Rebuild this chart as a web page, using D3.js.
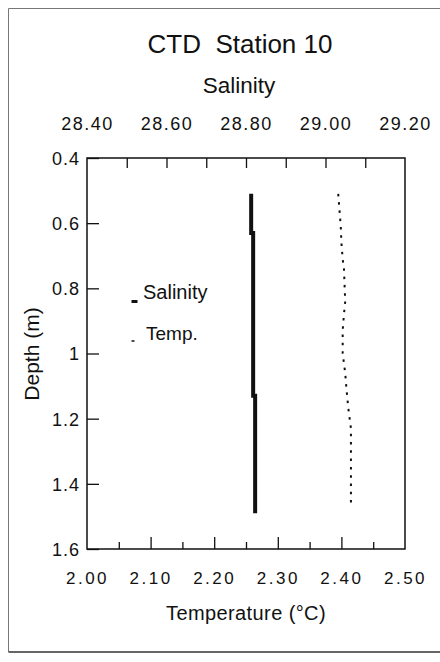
<!DOCTYPE html>
<html>
<head>
<meta charset="utf-8">
<script src="https://cdn.jsdelivr.net/npm/d3@7"></script>
<style>
  body { margin: 0; background: #fff; }
  svg { display: block; font-family: "Liberation Sans", Arial, sans-serif; }
  text { fill: #111; }
</style>
</head>
<body>
<div class="chart"></div>
<script>
// --- data ---
const depthTicks = [0.4, 0.6, 0.8, 1, 1.2, 1.4, 1.6];
const salLabelTicks = [28.4, 28.6, 28.8, 29.0, 29.2];
const salInnerTicks = [28.5, 28.6, 28.7, 28.8, 28.9, 29.0, 29.1];
const tempLabelTicks = [2.0, 2.1, 2.2, 2.3, 2.4, 2.5];
const tempMajorTicks = [2.1, 2.2, 2.3, 2.4];
const tempMinorTicks = [2.05, 2.15, 2.25, 2.35, 2.45];

// salinity profile (thick line)
const salDepth = [0.51, 0.63, 0.63, 1.13, 1.13, 1.49];
const salValue = [28.813, 28.813, 28.818, 28.818, 28.823, 28.823];

// temperature profile (dotted line)
const tempDepth = [0.51, 0.56, 0.61, 0.66, 0.71, 0.74, 0.84, 0.88, 0.93, 1.00, 1.06, 1.11, 1.17, 1.23, 1.47];
const tempValue = [2.395, 2.397, 2.399, 2.400, 2.402, 2.404, 2.406, 2.404, 2.402, 2.402, 2.406, 2.408, 2.411, 2.415, 2.415];

const W = 440, H = 662;
const plot = { left: 87, right: 405, top: 158, bottom: 549 };

const svg = d3.select(".chart").append("svg")
    .attr("width", W)
    .attr("height", H);

// --- scales ---
const y = d3.scaleLinear().domain([0.4, 1.6]).range([plot.top, plot.bottom]);
const xSal = d3.scaleLinear().domain([28.4, 29.2]).range([plot.left, plot.right]);
const xTemp = d3.scaleLinear().domain([2.0, 2.5]).range([plot.left, plot.right]);

// --- outer frame of the page ---
svg.append("line").attr("x1", 8.5).attr("y1", 8.5).attr("x2", W).attr("y2", 8.5)
    .attr("stroke", "#777").attr("stroke-width", 1);
svg.append("line").attr("x1", 8.5).attr("y1", 8.5).attr("x2", 8.5).attr("y2", 652)
    .attr("stroke", "#777").attr("stroke-width", 1);
svg.append("line").attr("x1", 8.5).attr("y1", 652).attr("x2", W).attr("y2", 652)
    .attr("stroke", "#333").attr("stroke-width", 1.5);

// --- titles ---
svg.append("text")
    .attr("x", 240).attr("y", 53)
    .attr("text-anchor", "middle")
    .style("white-space", "pre")
    .style("font-size", "26px")
    .text("CTD  Station 10");

svg.append("text")
    .attr("x", 239).attr("y", 93)
    .attr("text-anchor", "middle")
    .style("font-size", "22.5px")
    .text("Salinity");

svg.append("text")
    .attr("x", 246).attr("y", 620)
    .attr("text-anchor", "middle")
    .style("font-size", "20px")
    .style("letter-spacing", "0.4px")
    .text("Temperature (°C)");

svg.append("text")
    .attr("transform", "translate(39,354) rotate(-90)")
    .attr("text-anchor", "middle")
    .style("font-size", "21px")
    .text("Depth (m)");

// --- axes ---
const cleanAxis = g => {
    g.select(".domain").remove();
    g.selectAll(".tick line").attr("stroke", "#111").attr("stroke-width", 1.3);
};

// left: depth, ticks pointing in
svg.append("g")
    .attr("transform", `translate(${plot.left},0)`)
    .call(d3.axisLeft(y).tickValues(depthTicks).tickFormat(d => String(d))
        .tickSize(-12).tickPadding(7))
    .call(cleanAxis)
    .call(g => g.selectAll("text").style("font-size", "18px").style("letter-spacing", "1px")
        .attr("dy", "0.36em"));

// top: salinity ticks (no labels) + labels
svg.append("g")
    .attr("transform", `translate(0,${plot.top})`)
    .call(d3.axisTop(xSal).tickValues(salInnerTicks).tickFormat("").tickSize(-10))
    .call(cleanAxis);

svg.append("g")
    .attr("transform", `translate(0,${plot.top})`)
    .call(d3.axisTop(xSal).tickValues(salLabelTicks).tickFormat(d3.format(".2f"))
        .tickSize(0).tickPadding(28))
    .call(cleanAxis)
    .call(g => g.selectAll("text").style("font-size", "18px").style("letter-spacing", "1.5px"));

// bottom: temperature major + minor ticks, then labels
svg.append("g")
    .attr("transform", `translate(0,${plot.bottom})`)
    .call(d3.axisBottom(xTemp).tickValues(tempMajorTicks).tickFormat("").tickSize(-12))
    .call(cleanAxis);

svg.append("g")
    .attr("transform", `translate(0,${plot.bottom})`)
    .call(d3.axisBottom(xTemp).tickValues(tempMinorTicks).tickFormat("").tickSize(-7))
    .call(cleanAxis);

svg.append("g")
    .attr("transform", `translate(0,${plot.bottom})`)
    .call(d3.axisBottom(xTemp).tickValues(tempLabelTicks).tickFormat(d3.format(".2f"))
        .tickSize(0).tickPadding(23))
    .call(cleanAxis)
    .call(g => g.selectAll("text").style("font-size", "17px").style("letter-spacing", "2.5px"));

// plot frame
svg.append("rect")
    .attr("x", plot.left).attr("y", plot.top)
    .attr("width", plot.right - plot.left)
    .attr("height", plot.bottom - plot.top)
    .attr("fill", "none")
    .attr("stroke", "#111")
    .attr("stroke-width", 1.5);

// --- profiles ---
const salData = salDepth.map((d, i) => ({ depth: d, v: salValue[i] }));
const tempData = tempDepth.map((d, i) => ({ depth: d, v: tempValue[i] }));

svg.append("path")
    .datum(salData)
    .attr("fill", "none")
    .attr("stroke", "#111")
    .attr("stroke-width", 4)
    .attr("d", d3.line().x(d => xSal(d.v)).y(d => y(d.depth)));

svg.append("path")
    .datum(tempData)
    .attr("fill", "none")
    .attr("stroke", "#111")
    .attr("stroke-width", 2)
    .attr("stroke-dasharray", "2.5,5.8")
    .attr("d", d3.line().x(d => xTemp(d.v)).y(d => y(d.depth)));

// --- legend ---
svg.append("line")
    .attr("x1", 131.5).attr("x2", 137.5).attr("y1", 301.5).attr("y2", 301.5)
    .attr("stroke", "#111").attr("stroke-width", 3);
svg.append("text")
    .attr("x", 143).attr("y", 299)
    .style("font-size", "20px")
    .text("Salinity");

svg.append("line")
    .attr("x1", 131.5).attr("x2", 134.5).attr("y1", 341).attr("y2", 341)
    .attr("stroke", "#111").attr("stroke-width", 1.5);
svg.append("text")
    .attr("x", 146).attr("y", 340)
    .style("font-size", "19px")
    .text("Temp.");
</script>
</body>
</html>
